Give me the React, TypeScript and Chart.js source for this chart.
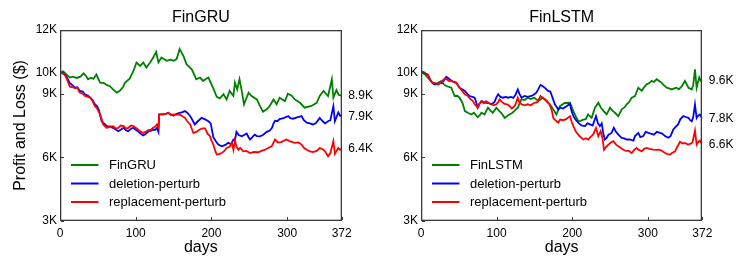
import React, { useEffect, useRef } from "react";
import { Chart, registerables } from "chart.js";

Chart.register(...registerables);

const FONT = "'Liberation Sans', Arial, Helvetica, sans-serif";

// ---------- data (values in thousands of dollars, x = trading day) ----------
const X_TICKS = [0, 100, 200, 300, 372];
const Y_TICKS = [3, 6, 9, 10, 12];
const SERIES_COLORS = ["#008000", "#0000ff", "#ff0000"];
const GRU_LABELS = ["FinGRU", "deletion-perturb", "replacement-perturb"];
const LSTM_LABELS = ["FinLSTM", "deletion-perturb", "replacement-perturb"];
const GRU_END_VALUES = [8.9, 7.9, 6.4];
const LSTM_END_VALUES = [9.6, 7.8, 6.6];

const gruBase: [number, number][] = [
  [0, 10.0], [4, 10.05], [7, 9.95], [10, 9.85], [13, 9.76], [17, 9.8], [22, 9.74], [27, 9.8], [31, 9.96], [34, 9.85],
  [37, 9.68], [41, 9.75], [44, 9.7], [48, 9.9], [50, 9.75], [53, 9.52], [58, 9.5], [62, 9.4], [66, 9.35], [70, 9.2],
  [75, 9.05], [79, 9.13], [83, 9.3], [86, 9.52], [92, 9.71], [97, 10.07], [101, 10.47], [106, 10.31], [110, 10.47], [114, 10.23],
  [119, 10.47], [123, 10.7], [127, 10.97], [130, 10.47], [134, 10.7], [141, 10.55], [146, 10.6], [150, 10.55], [154, 10.63], [158, 11.1],
  [163, 10.78], [167, 10.39], [174, 10.15], [180, 9.68], [185, 9.76], [189, 9.6], [193, 9.7], [196, 9.76], [202, 9.28], [207, 8.85],
  [211, 8.78], [216, 8.97], [220, 8.73], [224, 9.13], [229, 8.89], [231, 9.52], [234, 9.2], [237, 9.68], [240, 9.13], [243, 8.5],
  [249, 9.05], [253, 8.89], [260, 8.73], [264, 8.42], [268, 8.15], [273, 8.26], [277, 8.42], [282, 8.73], [286, 8.5], [290, 8.81],
  [297, 8.65], [301, 9.0], [306, 8.9], [310, 8.73], [317, 8.57], [323, 8.34], [332, 8.42], [339, 8.57], [343, 8.89], [348, 9.13],
  [354, 8.89], [359, 9.68], [361, 8.81], [365, 9.17], [368, 8.95], [372, 8.9],
];

const gruDeletion: [number, number][] = [
  [0, 10.0], [4, 9.95], [7, 9.88], [10, 9.7], [13, 9.5], [17, 9.38], [20, 9.28], [23, 9.3], [26, 9.13], [30, 9.1],
  [33, 8.97], [37, 8.9], [40, 8.81], [43, 8.7], [46, 8.5], [49, 8.4], [51, 8.26], [55, 7.7], [58, 7.6], [62, 7.47],
  [66, 7.45], [70, 7.39], [74, 7.3], [77, 7.23], [80, 7.3], [84, 7.39], [87, 7.28], [90, 7.23], [94, 7.35], [97, 7.39],
  [100, 7.3], [103, 7.23], [107, 7.1], [110, 7.03], [113, 7.1], [117, 7.23], [120, 7.25], [123, 7.31], [126, 7.3], [128, 7.39],
  [130, 7.2], [131, 8.02], [136, 8.02], [140, 8.05], [143, 8.1], [146, 8.02], [150, 7.97], [154, 8.05], [158, 8.1], [161, 8.12],
  [165, 8.18], [168, 8.1], [172, 7.94], [175, 7.75], [178, 7.55], [182, 7.7], [187, 7.86], [191, 7.8], [196, 7.7], [199, 7.6],
  [202.5, 6.95], [206, 6.75], [209, 6.6], [213.5, 6.52], [216, 6.55], [219, 6.6], [222, 6.68], [226, 6.62], [229, 6.84], [231, 6.8],
  [233, 7.2], [236, 7.05], [240, 6.99], [243, 7.05], [246.5, 7.12], [249, 6.95], [251, 6.84], [254, 6.95], [257, 7.07], [260, 7.0],
  [264, 6.99], [268, 7.05], [273, 7.2], [277, 7.26], [280, 7.39], [282, 7.6], [284, 7.72], [287, 7.7], [290, 7.8], [295, 7.85],
  [301.5, 7.94], [304, 7.85], [308, 7.82], [313, 7.88], [319, 7.94], [322, 7.75], [325.8, 7.63], [330, 7.6], [334, 7.55], [338, 7.62],
  [343, 7.86], [347, 7.7], [350, 7.6], [354, 7.7], [357, 7.75], [361, 8.41], [363, 7.7], [367.5, 8.12], [370, 7.95], [372, 7.97],
];

const gruReplacement: [number, number][] = [
  [0, 10.0], [4, 9.95], [7, 9.85], [10, 9.6], [13, 9.33], [17, 9.3], [20, 9.25], [23, 9.28], [26, 9.05], [30, 9.0],
  [33, 8.89], [37, 8.85], [40, 8.81], [43, 8.65], [46, 8.42], [49, 8.3], [53, 8.02], [55, 7.8], [57, 7.55], [60, 7.45],
  [62, 7.39], [66, 7.45], [70, 7.47], [74, 7.35], [77, 7.39], [80, 7.5], [84, 7.47], [87, 7.35], [90, 7.39], [94, 7.5],
  [97, 7.47], [100, 7.4], [103, 7.31], [107, 7.2], [110, 7.15], [113, 7.2], [117, 7.28], [120, 7.3], [123, 7.39], [126, 7.45],
  [128, 7.55], [130, 7.4], [131, 8.02], [136, 8.02], [140, 8.05], [143, 8.1], [146, 8.0], [150, 8.02], [154, 8.0], [158, 8.02],
  [161, 7.95], [165, 7.86], [168, 7.7], [172, 7.55], [174, 7.35], [176, 7.15], [180, 7.2], [184, 7.3], [188, 7.36], [191.5, 7.36],
  [195, 7.1], [198, 7.0], [200, 6.8], [202.5, 6.6], [205, 6.3], [207, 6.13], [210, 6.15], [213.5, 6.2], [217, 6.3], [220, 6.44],
  [224, 6.5], [227, 6.68], [229, 6.36], [231, 6.79], [233, 6.5], [235.6, 6.36], [238, 6.45], [242, 6.28], [246, 6.3], [251, 6.2],
  [256, 6.25], [262, 6.24], [266, 6.3], [271, 6.36], [275, 6.44], [279.5, 6.52], [284, 6.84], [288, 6.7], [292, 6.72], [299, 6.84],
  [304, 6.75], [310, 6.68], [315, 6.7], [319, 6.6], [322, 6.45], [325.8, 6.36], [330, 6.28], [334, 6.25], [339, 6.3], [343, 6.44],
  [347, 6.38], [350, 6.28], [354, 6.05], [357, 6.2], [361, 6.76], [363, 6.17], [367.5, 6.44], [370, 6.35], [372, 6.4],
];

const lstmBase: [number, number][] = [
  [0, 10.0], [3, 9.96], [6, 9.88], [9, 9.76], [13, 9.6], [18, 9.44], [22, 9.5], [27, 9.6], [30, 9.45], [33.5, 9.36],
  [37, 9.32], [40, 9.28], [44.5, 8.89], [48, 8.9], [51, 8.81], [55, 8.55], [58, 8.18], [62, 8.1], [66.5, 8.02], [70, 8.1],
  [75, 7.89], [78, 8.0], [80, 8.1], [84, 8.02], [88.6, 8.34], [92, 8.2], [95, 8.1], [99.6, 8.34], [103, 8.2], [106, 8.1],
  [110.7, 7.86], [114, 7.95], [117, 8.02], [121, 8.1], [124, 8.2], [128, 8.34], [132.7, 8.73], [137, 8.7], [141, 8.81], [145, 8.75],
  [150, 8.81], [155, 8.65], [161, 8.81], [166, 8.68], [169, 8.55], [172, 8.42], [176, 8.2], [179, 8.02], [183.8, 8.41], [190, 8.56],
  [197, 8.57], [201.5, 8.18], [205, 7.9], [208, 7.7], [211, 7.72], [214.7, 7.78], [218, 7.8], [221, 8.02], [225.7, 7.86], [230, 8.34],
  [234.5, 8.57], [238, 8.34], [241, 8.2], [245.5, 8.02], [250, 8.34], [253, 8.2], [256.5, 8.1], [261, 7.94], [265.4, 8.26], [269, 8.35],
  [272, 8.5], [275, 8.6], [278.6, 8.81], [283, 8.89], [287.4, 9.28], [292, 9.13], [295, 9.3], [298.5, 9.44], [302, 9.5], [305, 9.6],
  [308, 9.55], [311.7, 9.68], [315, 9.6], [318, 9.52], [321, 9.4], [325, 9.28], [328, 9.25], [331.7, 9.2], [335, 9.25], [338, 9.28],
  [341, 9.2], [345, 9.35], [349, 9.6], [353.7, 9.28], [358, 9.2], [360, 9.4], [362.3, 10.15], [364.5, 9.28], [366, 9.5], [368, 9.76],
  [370, 9.6], [372, 9.62],
];

const lstmDeletion: [number, number][] = [
  [0, 10.0], [3, 10.02], [6, 9.95], [9, 9.9], [13, 9.6], [16, 9.47], [19, 9.44], [22.5, 9.47], [27, 9.5], [30, 9.6],
  [33.5, 9.79], [37, 9.7], [40, 9.6], [43, 9.55], [46.7, 9.52], [51, 9.28], [55, 9.2], [58, 9.13], [61, 9.0], [64, 8.89],
  [68, 8.85], [71, 8.81], [73, 8.6], [75, 8.34], [77, 8.5], [80, 8.65], [83, 8.6], [86, 8.57], [90, 8.55], [93, 8.5],
  [97, 8.6], [100, 8.85], [102, 8.97], [105, 8.85], [108.4, 8.81], [112, 8.85], [115, 8.81], [119, 8.85], [122, 8.8], [125, 8.95],
  [128, 9.2], [130, 9.0], [133, 8.81], [137, 8.89], [141, 8.85], [146, 8.89], [149, 8.95], [152.5, 9.05], [155, 9.2], [158, 9.41],
  [161, 9.35], [163.6, 9.28], [168, 9.13], [171, 9.1], [174, 8.8], [177, 8.5], [181.5, 8.26], [184, 8.34], [188, 8.3], [192, 8.4],
  [197, 8.52], [199, 8.2], [201.5, 7.94], [205, 7.75], [208, 7.63], [212, 7.5], [217, 7.47], [220, 7.6], [223.5, 7.55], [227, 7.5],
  [229, 7.7], [231.4, 7.94], [234, 7.6], [236.6, 7.47], [239, 7.6], [241, 7.15], [243, 6.84], [245.5, 6.92], [248, 7.07], [252, 7.15],
  [255, 7.39], [258, 7.2], [261, 7.07], [265.4, 6.92], [268, 6.9], [272, 6.84], [276, 6.84], [281, 6.79], [283, 7.0], [287.4, 7.15],
  [290, 6.95], [294, 7.0], [297, 7.2], [300.7, 7.15], [305, 7.1], [308, 7.07], [312, 7.2], [316, 7.15], [319, 7.12], [322.7, 7.0],
  [327, 6.92], [330, 7.0], [333.6, 7.31], [337, 7.45], [340, 7.55], [343, 7.8], [346.9, 7.94], [350, 7.9], [353.7, 7.86], [356, 7.75],
  [358, 7.7], [360, 7.9], [362.3, 8.49], [364.5, 7.85], [366, 7.94], [368.7, 8.02], [370, 7.95], [372, 7.82],
];

const lstmReplacement: [number, number][] = [
  [0, 10.0], [3, 10.02], [6, 9.95], [9, 9.9], [13, 9.6], [16, 9.52], [19, 9.5], [22.5, 9.42], [27, 9.55], [31, 9.7],
  [34, 9.68], [37, 9.6], [40, 9.62], [43, 9.55], [46.7, 9.5], [51, 9.28], [55, 9.1], [58, 8.97], [62, 8.89], [65, 8.75],
  [68.7, 8.65], [71, 8.5], [75, 8.34], [77, 8.5], [80, 8.65], [83, 8.55], [86, 8.65], [90, 8.55], [93, 8.5], [96, 8.45],
  [99.6, 8.5], [102, 8.6], [104, 8.73], [107, 8.6], [110.7, 8.52], [114, 8.5], [117, 8.42], [120, 8.3], [124, 8.42], [126, 8.6],
  [128, 8.81], [130, 8.6], [133, 8.5], [137, 8.45], [141, 8.5], [145, 8.45], [150, 8.57], [154, 8.6], [158, 8.89], [161, 8.8],
  [163.6, 8.73], [167, 8.6], [170, 8.5], [173, 8.2], [175, 7.85], [177, 7.78], [181.5, 7.63], [184, 7.78], [188, 7.75], [192, 7.8],
  [197, 7.94], [199, 7.7], [201.5, 7.47], [205, 7.2], [208, 7.07], [211, 6.95], [214.7, 6.84], [218, 6.9], [221, 6.84], [224, 6.95],
  [227.6, 7.07], [231.4, 7.39], [234.5, 7.0], [237.6, 7.23], [240, 6.9], [242, 6.36], [245, 6.5], [248, 6.6], [251, 6.7], [254.4, 6.76],
  [258, 6.6], [261, 6.52], [264, 6.45], [267.6, 6.36], [271, 6.3], [275, 6.3], [278.6, 6.2], [282, 6.35], [285, 6.44], [288, 6.35],
  [292, 6.28], [295, 6.4], [298.5, 6.44], [302, 6.4], [307.4, 6.36], [311, 6.35], [315, 6.36], [319, 6.3], [322.7, 6.2], [326, 6.15],
  [329.3, 6.13], [332, 6.2], [336, 6.28], [339, 6.5], [342.5, 6.73], [346, 6.65], [349, 6.68], [353, 6.6], [356, 6.63], [359, 6.7],
  [362.3, 7.26], [364.5, 6.6], [366, 6.7], [368.7, 6.79], [370, 6.7], [372, 6.66],
];

// ---------- drawing ----------
const decorPlugin = {
  id: "decor",
  afterDraw(chart: any, _args: any, opts: any) {
    const { ctx, chartArea: a, scales } = chart;
    ctx.save();
    // frame
    const l = Math.round(a.left);
    const r = Math.round(a.right);
    const t = Math.round(a.top);
    const b = Math.round(a.bottom);
    ctx.fillStyle = "#3a3a3a";
    ctx.fillRect(l, t, r - l, 1.3);
    ctx.fillRect(l, b - 1.3, r - l, 1.3);
    ctx.fillRect(l, t, 1.3, b - t);
    ctx.fillRect(r - 1.3, t, 1.3, b - t);
    // inward tick marks
    for (const v of X_TICKS) {
      const px = Math.round(scales.x.getPixelForValue(v));
      ctx.fillRect(px, b - 4, 1, 3);
    }
    for (const v of Y_TICKS) {
      const py = Math.round(scales.y.getPixelForValue(v));
      ctx.fillRect(l + 1, py, 3, 1);
    }

    // title
    ctx.fillStyle = "#000";
    ctx.font = `16px ${FONT}`;
    ctx.textAlign = "center";
    ctx.textBaseline = "middle";
    ctx.fillText(opts.title, (a.left + a.right) / 2, 18);

    // legend
    ctx.font = `13px ${FONT}`;
    ctx.textAlign = "left";
    chart.data.datasets.forEach((ds: any, i: number) => {
      const y = a.top + 135 + i * 18.5;
      ctx.strokeStyle = ds.borderColor;
      ctx.lineWidth = 2;
      ctx.beginPath();
      ctx.moveTo(a.left + 11, y);
      ctx.lineTo(a.left + 38.5, y);
      ctx.stroke();
      ctx.fillStyle = "#000";
      ctx.fillText(ds.label, a.left + 49, y + 0.5);
    });

    // final-value labels
    ctx.font = `12px ${FONT}`;
    ctx.fillStyle = "#000";
    (opts.endValues as number[]).forEach((v) => {
      ctx.fillText(`${v.toFixed(1)}K`, a.right + 6.5, scales.y.getPixelForValue(v));
    });
    ctx.restore();
  },
};

type PanelProps = {
  title: string;
  labels: string[];
  series: [number, number][][];
  endValues: number[];
  showYTitle: boolean;
  left: number;
  width: number;
  axisWidth: number;
  plotRight: number;
};

function Panel(p: PanelProps) {
  const ref = useRef<HTMLCanvasElement | null>(null);
  useEffect(() => {
    if (!ref.current) return;
    const order = [2, 1, 0];
    const chart = new Chart(ref.current, {
      type: "line",
      data: {
        datasets: p.series.map((s, i) => ({
          label: p.labels[i],
          data: s.map(([d, v]) => ({ x: d, y: v })),
          borderColor: SERIES_COLORS[i],
          backgroundColor: SERIES_COLORS[i],
          borderWidth: 1.8,
          pointRadius: 0,
          tension: 0,
          fill: false,
          order: order[i],
        })),
      },
      options: {
        responsive: false,
        animation: false,
        events: [],
        layout: { padding: { left: 0, top: 30, right: p.width - p.plotRight, bottom: 0 } },
        plugins: {
          legend: { display: false },
          title: { display: false },
          tooltip: { enabled: false },
          decor: { title: p.title, endValues: p.endValues },
        } as any,
        scales: {
          x: {
            type: "linear",
            min: 0,
            max: 372,
            grid: { display: false, drawTicks: false },
            border: { display: false },
            afterBuildTicks: (s: any) => {
              s.ticks = X_TICKS.map((v) => ({ value: v }));
            },
            afterFit: (s: any) => {
              s.height = 48;
            },
            ticks: {
              color: "#000",
              font: { family: FONT, size: 12 },
              padding: 5,
              maxRotation: 0,
              autoSkip: false,
              callback: (v: any) => String(v),
            },
            title: {
              display: true,
              text: "days",
              color: "#000",
              font: { family: FONT, size: 16 },
              padding: { top: 0, bottom: 12 },
            },
          },
          y: {
            type: "linear",
            min: 3,
            max: 12,
            grid: { display: false, drawTicks: false },
            border: { display: false },
            afterBuildTicks: (s: any) => {
              s.ticks = Y_TICKS.map((v) => ({ value: v }));
            },
            afterFit: (s: any) => {
              s.width = p.axisWidth;
            },
            ticks: {
              color: "#000",
              font: { family: FONT, size: 12 },
              padding: 3,
              autoSkip: false,
              callback: (v: any) => `${v}K`,
            },
            title: {
              display: p.showYTitle,
              text: "Profit and Loss ($)",
              color: "#000",
              font: { family: FONT, size: 16 },
              padding: { top: 11, bottom: 0 },
            },
          },
        },
      },
      plugins: [decorPlugin],
    } as any);
    return () => chart.destroy();
  }, []);
  return (
    <canvas
      ref={ref}
      width={p.width}
      height={269}
      style={{ position: "absolute", left: p.left, top: 0, width: p.width, height: 269, display: "block" }}
    />
  );
}

export default function App() {
  return (
    <div style={{ position: "fixed", left: 0, top: 0, width: 747, height: 269, background: "#fff" }}>
      <Panel
        title="FinGRU"
        labels={GRU_LABELS}
        series={[gruBase, gruDeletion, gruReplacement]}
        endValues={GRU_END_VALUES}
        showYTitle={true}
        left={0}
        width={373}
        axisWidth={60}
        plotRight={341.7}
      />
      <Panel
        title="FinLSTM"
        labels={LSTM_LABELS}
        series={[lstmBase, lstmDeletion, lstmReplacement]}
        endValues={LSTM_END_VALUES}
        showYTitle={false}
        left={373}
        width={374}
        axisWidth={48}
        plotRight={329.3}
      />
    </div>
  );
}
